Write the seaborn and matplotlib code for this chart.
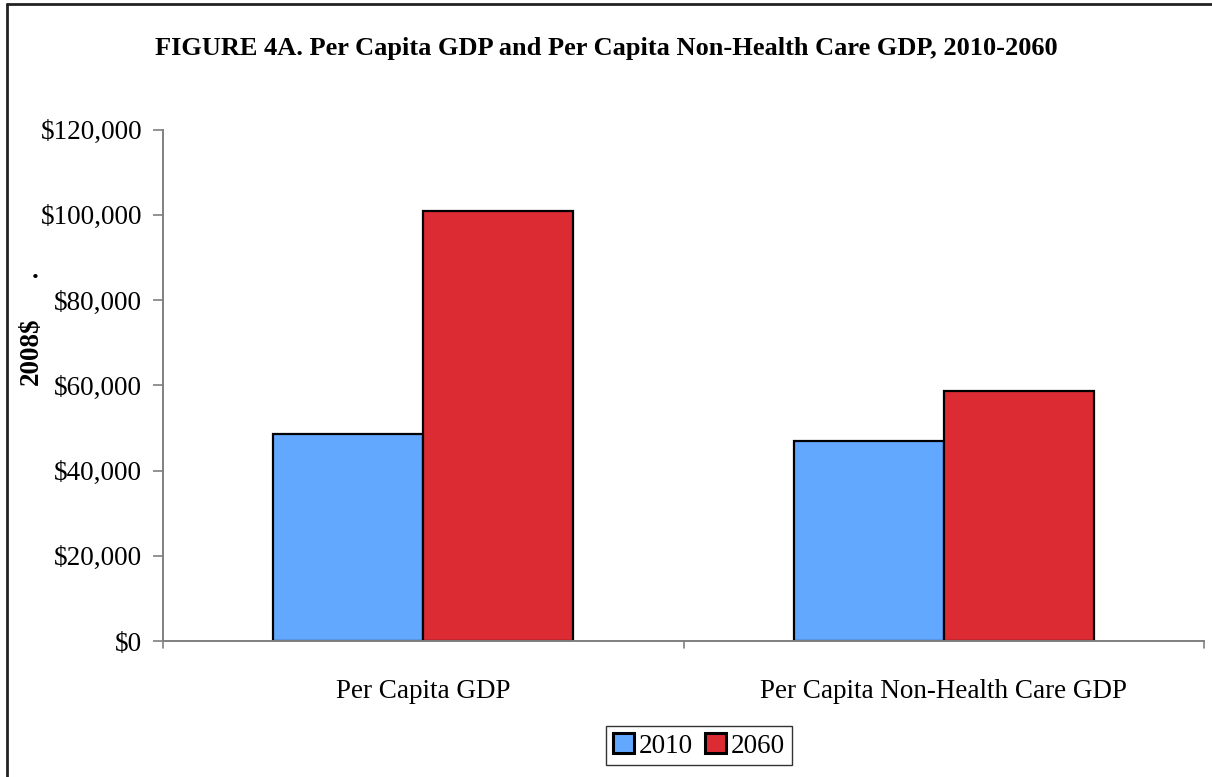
import matplotlib
matplotlib.use("Agg")
import matplotlib.pyplot as plt
from matplotlib.lines import Line2D
from matplotlib.ticker import FuncFormatter, MultipleLocator
import pandas as pd
import seaborn as sns

# Per capita output, 2008 dollars
categories = ["Per Capita GDP", "Per Capita Non-Health Care GDP"]
years = ["2010", "2060"]
values_2010 = [48500, 46900]
values_2060 = [101000, 58700]
colors = ["#63A8FF", "#DD2B33"]

df = pd.DataFrame({
    "category": categories * 2,
    "year": [years[0]] * 2 + [years[1]] * 2,
    "value": values_2010 + values_2060,
})

sns.set_style("white")
plt.rcParams["font.family"] = ["Liberation Serif", "DejaVu Serif"]
plt.rcParams["text.color"] = "black"
plt.rcParams["xtick.color"] = "black"
plt.rcParams["ytick.color"] = "black"

FS = 19.5

fig = plt.figure(figsize=(12.12, 7.77), dpi=100)
ax = fig.add_axes([0.1345, 0.175, 0.859, 0.6583])

sns.barplot(data=df, x="category", y="value", hue="year", order=categories,
            hue_order=years, palette=colors, width=0.577, gap=0,
            edgecolor="black", linewidth=1.6, saturation=1, ax=ax)

ax.set_ylim(0, 120000)
ax.set_xlim(-0.5, 1.5)
ax.yaxis.set_major_locator(MultipleLocator(20000))
ax.yaxis.set_major_formatter(FuncFormatter(lambda v, p: f"${v:,.0f}"))
ax.tick_params(axis="y", labelsize=FS, length=7, width=1.2, color="#808080",
               labelcolor="black", direction="out", left=True, pad=8)
ax.tick_params(axis="x", labelsize=FS, bottom=False, labelcolor="black", pad=24)

# Category boundary ticks along the baseline
for xb in (-0.5, 0.5, 1.5):
    ax.add_line(Line2D([xb, xb], [0, -0.014], transform=ax.get_xaxis_transform(),
                       color="#808080", lw=1.2, clip_on=False))

for side in ("top", "right"):
    ax.spines[side].set_visible(False)
for side in ("left", "bottom"):
    ax.spines[side].set_color("#808080")
    ax.spines[side].set_linewidth(1.4)

ax.set_xlabel("")
ax.set_ylabel("")
fig.text(0.026, 0.548, "2008$", rotation=90, fontsize=FS, fontweight="bold",
         ha="center", va="center", color="black")
fig.text(0.029, 0.651, ".", fontsize=FS, fontweight="bold", ha="center", va="center",
         color="black")

fig.text(0.5, 0.938, "FIGURE 4A. Per Capita GDP and Per Capita Non-Health Care GDP, 2010-2060",
         fontsize=19, fontweight="bold", ha="center", va="center", color="black")

leg = ax.legend(loc="center", bbox_to_anchor=(0.515, -0.205), ncol=2, fontsize=FS,
                frameon=True, fancybox=False, edgecolor="black", handlelength=0.75,
                handleheight=0.75, handletextpad=0.2, columnspacing=0.45,
                borderpad=0.25, borderaxespad=0)
leg.get_frame().set_linewidth(1.0)
for t in leg.get_texts():
    t.set_color("black")
for h in leg.legend_handles:
    h.set_linewidth(2.2)
    h.set_edgecolor("black")

# Outer frame (left and top edges visible)
fig.add_artist(Line2D([7 / 1212, 7 / 1212], [0, 1 - 4 / 777], transform=fig.transFigure,
                      color="#222222", lw=2))
fig.add_artist(Line2D([7 / 1212, 1], [1 - 4 / 777, 1 - 4 / 777], transform=fig.transFigure,
                      color="#222222", lw=2))

fig.savefig("out.png", dpi=100)
